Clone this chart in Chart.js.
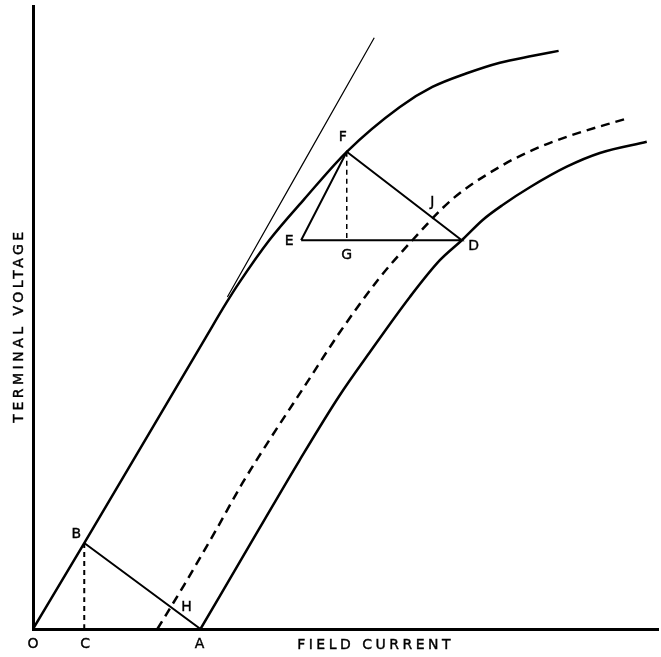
<!DOCTYPE html>
<html>
<head>
<meta charset="utf-8">
<script src="https://cdn.jsdelivr.net/npm/chart.js@4"></script>
<style>
  body { margin: 0; background: #fff; }
  #wrap { width: 661px; height: 657px; }
</style>
</head>
<body>
<div id="wrap"><canvas id="chart"></canvas></div>
<script>
// open-circuit (saturation) curve through O, B and F
const openCurve = [
  [0, 0], [8.2, 13.8], [27.7, 46.9], [30.9, 52.3], [33.0, 55.6], [37.8, 62.4],
  [43.4, 69.0], [50.2, 76.6], [58.7, 83.8], [63.9, 87.0], [69.4, 89.2],
  [74.7, 90.9], [80.0, 92.0], [84.1, 92.8]
];
// air-gap tangent
const tangentLine = [[31.1, 53.3], [54.6, 94.9]];
// dashed curve
const dashedCurve = [
  [19.9, 0], [24.2, 7.1], [29.3, 15.9], [33.5, 23.4], [37.8, 30.3], [43.8, 39.5],
  [49.0, 47.5], [55.4, 56.3], [60.7, 62.4], [67.1, 69.0], [74.7, 74.2],
  [80.0, 76.9], [85.4, 79.0], [95.2, 82.0]
];
// load curve starting at A and passing D
const loadCurve = [
  [26.8, 0], [36.2, 16.1], [42.6, 27.0], [49.0, 37.4], [53.8, 44.3], [60.3, 53.3],
  [65.1, 59.2], [68.6, 62.4], [72.0, 65.7], [75.2, 68.1], [79.5, 70.9],
  [85.4, 74.2], [90.7, 76.4], [98.2, 78.2]
];
// named construction points
const ptO = [0, 0];
const ptB = [8.2, 13.8];
const ptC = [8.2, 0];
const ptA = [26.8, 0];
const ptH = [22.0, 3.5];
const ptF = [50.2, 76.6];
const ptE = [42.9, 62.4];
const ptG = [50.2, 62.4];
const ptD = [68.6, 62.4];
const ptJ = [63.9, 66.0];

const toXY = arr => arr.map(p => ({ x: p[0], y: p[1] }));

function lineSet(points, width, dash) {
  return {
    data: toXY(points),
    showLine: true,
    borderColor: '#000',
    borderWidth: width,
    borderDash: dash || [],
    pointRadius: 0,
    cubicInterpolationMode: 'monotone',
    fill: false
  };
}

// letters at the construction points (pixel nudges only)
const pointLabels = [
  ['O', ptO, 0, 15], ['C', ptC, 1, 15], ['A', ptA, -1, 15], ['B', ptB, -8, -9],
  ['H', ptH, 16, 0], ['F', ptF, -4, -14], ['E', ptE, -12, 1], ['G', ptG, 0, 15],
  ['D', ptD, 12, 6], ['J', ptJ, 0, -15]
];

const labelPlugin = {
  id: 'labels',
  afterDraw(chart) {
    const ctx = chart.ctx;
    const xs = chart.scales.x, ys = chart.scales.y;
    const put = (t, x, y) => { ctx.fillText(t, x, y); ctx.strokeText(t, x, y); };
    ctx.save();
    ctx.fillStyle = '#000';
    ctx.strokeStyle = '#000';
    ctx.lineWidth = 0.4;
    ctx.font = '14px "DejaVu Sans"';
    ctx.textAlign = 'center';
    ctx.textBaseline = 'middle';
    pointLabels.forEach(([t, p, dx, dy]) => {
      put(t, xs.getPixelForValue(p[0]) + dx, ys.getPixelForValue(p[1]) + dy);
    });
    // axis titles
    ctx.letterSpacing = '3.5px';
    put('FIELD CURRENT', xs.getPixelForValue(54.5) + 2, ys.bottom + 16);
    ctx.translate(xs.left - 14, (ys.top + ys.bottom) / 2 + 8);
    ctx.rotate(-Math.PI / 2);
    put('TERMINAL VOLTAGE', 0, 0);
    ctx.restore();
  }
};

new Chart(document.getElementById('chart'), {
  type: 'scatter',
  data: {
    datasets: [
      lineSet(openCurve, 2.5),
      lineSet(tangentLine, 1.2),
      lineSet(dashedCurve, 2.5, [9, 6]),
      lineSet(loadCurve, 2.5),
      lineSet([ptB, ptA], 2),
      lineSet([ptB, ptC], 2, [5, 4]),
      Object.assign(lineSet([ptE, ptF, ptD, ptE], 2), { cubicInterpolationMode: 'default', tension: 0 }),
      lineSet([ptF, ptG], 1.5, [5, 4])
    ]
  },
  options: {
    responsive: true,
    maintainAspectRatio: false,
    animation: false,
    layout: { padding: { left: 33, top: 6, right: 3, bottom: 28 } },
    plugins: { legend: { display: false }, tooltip: { enabled: false } },
    scales: {
      x: {
        type: 'linear', min: 0, max: 100,
        grid: { display: false, drawTicks: false },
        ticks: { display: false },
        border: { display: true, color: '#000', width: 3 }
      },
      y: {
        type: 'linear', min: 0, max: 100,
        grid: { display: false, drawTicks: false },
        ticks: { display: false },
        border: { display: true, color: '#000', width: 3 }
      }
    }
  },
  plugins: [labelPlugin]
});
</script>
</body>
</html>
